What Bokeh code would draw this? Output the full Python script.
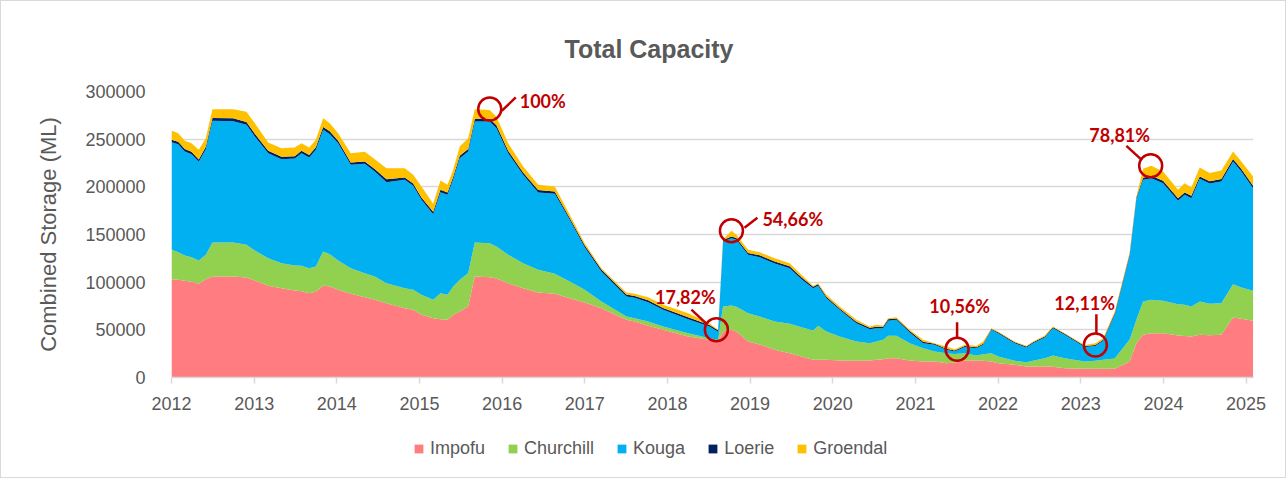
from bokeh.plotting import figure
from bokeh.layouts import column
from bokeh.models import (ColumnDataSource, Legend, LegendItem, FixedTicker,
                          NumeralTickFormatter, Range1d)
from bokeh.core.properties import value
from bokeh.embed import file_html
from bokeh.resources import INLINE

# ---------------- data (ML) ----------------
dates = [
    2012.000, 2012.081, 2012.161, 2012.242, 2012.330, 2012.415, 2012.496, 2012.746, 2012.907, 2013.008,
    2013.170, 2013.331, 2013.491, 2013.573, 2013.666, 2013.746, 2013.835, 2013.915, 2014.016, 2014.169,
    2014.338, 2014.459, 2014.601, 2014.822, 2014.924, 2015.024, 2015.166, 2015.254, 2015.339, 2015.408,
    2015.487, 2015.589, 2015.669, 2015.850, 2015.931, 2016.073, 2016.254, 2016.436, 2016.637, 2016.818,
    2016.999, 2017.201, 2017.504, 2017.604, 2017.766, 2017.948, 2018.250, 2018.508, 2018.613, 2018.673,
    2018.774, 2018.834, 2018.976, 2019.116, 2019.298, 2019.479, 2019.621, 2019.762, 2019.823, 2019.923,
    2020.084, 2020.286, 2020.447, 2020.528, 2020.609, 2020.669, 2020.770, 2020.931, 2021.093, 2021.233,
    2021.375, 2021.475, 2021.596, 2021.738, 2021.819, 2021.919, 2022.000, 2022.201, 2022.342, 2022.423,
    2022.564, 2022.665, 2022.806, 2023.048, 2023.177, 2023.270, 2023.411, 2023.592, 2023.673, 2023.754,
    2023.854, 2023.996, 2024.177, 2024.257, 2024.338, 2024.439, 2024.560, 2024.701, 2024.843, 2024.943,
    2025.085]

impofu = [
    103100, 102500, 101400, 100400, 98300, 103100, 105900, 105900, 104900, 101800,
    96200, 93700, 91300, 90500, 88400, 89900, 96500, 95500, 92000, 87800,
    84200, 81500, 77900, 72700, 71000, 65800, 62200, 61200, 60500, 65800,
    69200, 74500, 105900, 105200, 103900, 98900, 93700, 89200, 87800, 83200,
    78700, 72700, 60500, 58700, 54200, 50000, 43000, 39500, 37500, 48300,
    50000, 48300, 37800, 34600, 29100, 25500, 22000, 18600, 18600, 18600,
    17800, 17500, 17800, 18600, 19200, 20200, 20200, 17800, 16800, 16800,
    15000, 15700, 17800, 17800, 17500, 16800, 15000, 13300, 11500, 11500,
    11500, 11200, 9800, 9100, 9100, 9100, 9100, 16800, 36000, 44800,
    46500, 46500, 44100, 43500, 43000, 44800, 44300, 44800, 62900, 61600,
    59500]

churchill = [
    31200, 28900, 26600, 25800, 24400, 25600, 35700, 35700, 34300, 31400,
    28900, 26200, 26200, 26700, 26300, 26500, 35700, 33800, 30700, 26900,
    25200, 24400, 21000, 21000, 21000, 21000, 19300, 27200, 26300, 29700,
    33300, 34900, 35700, 35700, 33500, 29800, 26200, 23800, 21000, 17500,
    13300, 7000, 3500, 3500, 4500, 3500, 3500, 1700, 2000, 26200,
    25500, 25800, 29700, 29400, 29600, 30800, 30800, 30700, 35600, 29700,
    25200, 20300, 18200, 19200, 20300, 23500, 23500, 18200, 13900, 10500,
    10500, 9000, 7700, 5300, 6900, 8700, 7000, 4200, 4500, 6000,
    8700, 11900, 10400, 7700, 8400, 9500, 10800, 23100, 24500, 34900,
    35000, 34000, 32800, 32800, 31500, 34900, 33100, 33100, 35000, 32800,
    31400]

kouga = [
    112500, 113300, 109100, 108000, 103600, 110800, 127700, 127300, 125900, 119600,
    110200, 109100, 112200, 118100, 116100, 122500, 127600, 125900, 123100, 108400,
    114800, 110200, 106000, 113700, 109100, 99600, 89800, 106000, 104800, 112500,
    127500, 127700, 126900, 127600, 124100, 106600, 92700, 81100, 83900, 64700,
    44700, 31500, 21000, 21400, 20300, 17500, 14700, 12300, 8500, 68200,
    70500, 70300, 61200, 62200, 60900, 58400, 50300, 44400, 42000, 34900,
    28000, 19200, 14700, 13900, 12200, 15800, 16800, 11200, 5300, 7000,
    3600, 2600, 6500, 7600, 9900, 24500, 24500, 18500, 15500, 18500,
    21800, 28600, 24600, 15200, 15600, 19900, 45900, 88100, 126900, 127700,
    127600, 123300, 108500, 115300, 113600, 128700, 126000, 127700, 128700, 121700,
    107700]

loerie = [
    2500, 2500, 2500, 2500, 2500, 2500, 3000, 3000, 3000, 3000,
    2500, 2500, 2500, 2500, 2500, 2500, 3000, 3000, 2500, 2500,
    2500, 2500, 3000, 2500, 2500, 2500, 2500, 2500, 2500, 2500,
    2500, 2500, 3000, 3000, 3000, 2500, 2500, 2500, 2500, 2000,
    2000, 2000, 2000, 2000, 2000, 2000, 2000, 1500, 1500, 1500,
    2000, 2000, 2000, 2000, 2000, 2000, 2000, 1500, 1500, 1500,
    1500, 1500, 1500, 1500, 1500, 1500, 1500, 1500, 1500, 1000,
    1000, 1000, 1000, 1000, 1000, 1000, 1000, 1000, 1000, 1000,
    1000, 1000, 1000, 1000, 1000, 1000, 1500, 1500, 1500, 2000,
    2500, 2500, 2500, 2500, 2500, 2500, 2500, 2500, 2500, 2500,
    2500]

groendal = [
    9800, 9100, 8700, 9100, 10100, 9000, 9100, 9500, 10600, 11000,
    8700, 9000, 9100, 8000, 8000, 7900, 9200, 8600, 8000, 9700,
    10100, 10400, 11700, 9700, 9000, 11500, 8400, 9800, 8000, 7400,
    9800, 11400, 9900, 9000, 9000, 8000, 6200, 5500, 5200, 3300,
    2200, 1500, 2200, 2200, 3200, 3300, 4300, 2000, 700, 800,
    6000, 3300, 3300, 3200, 3500, 3200, 2600, 1000, 1200, 2100,
    2000, 2000, 1300, 2100, 1000, 1200, 1300, 1300, 2000, 700,
    2400, 1450, 1300, 1600, 2500, 700, 800, 800, 800, 800,
    1100, 800, 700, 1100, 1900, 1700, 1900, 1600, 900, 9500,
    10400, 9800, 9000, 9700, 8700, 9400, 8500, 9000, 8000, 8000,
    9700]

series_names = ["Impofu", "Churchill", "Kouga", "Loerie", "Groendal"]
series_colors = ["#FF7C80", "#92D050", "#00B0F0", "#002060", "#FFC000"]

year_ticks = list(range(2012, 2026))
storage_ticks = [0, 50000, 100000, 150000, 200000, 250000, 300000]

total_capacity = 281734
ann_dates = [2015.850, 2018.592, 2018.774, 2021.504, 2023.177, 2023.846]
ann_pct = [100.0, 17.82, 54.66, 10.56, 12.11, 78.81]
ann_text = ["100%", "17,82%", "54,66%", "10,56%", "12,11%", "78,81%"]

# ---------------- main figure ----------------
W, H = 1284, 420
X0, X1 = 2012.0, 2025.09
Y0, Y1 = 0, 300000
FL, FR, FT, FB = 170, 32, 90, 44

p = figure(width=W, height=H, output_backend="svg", toolbar_location=None,
           x_range=Range1d(X0, X1), y_range=Range1d(Y0, Y1),
           min_border_left=FL, min_border_right=FR,
           min_border_top=FT, min_border_bottom=FB,
           title="Total Capacity")
p.outline_line_color = None
p.background_fill_color = "white"
p.border_fill_color = "white"

p.title.text_font = "Liberation Sans"
p.title.text_font_size = "25px"
p.title.text_font_style = "bold"
p.title.text_color = "#595959"
p.title.align = "left"
p.title.offset = 393
p.title.standoff = 58

src = ColumnDataSource(data=dict(x=dates, Impofu=impofu, Churchill=churchill,
                                 Kouga=kouga, Loerie=loerie, Groendal=groendal))
rends = p.varea_stack(stackers=series_names, x="x", color=series_colors, source=src)

xa = p.xaxis[0]
xa.ticker = FixedTicker(ticks=year_ticks)
xa.axis_line_color = "#D9D9D9"
xa.axis_line_width = 1.5
xa.major_tick_line_color = "#D9D9D9"
xa.major_tick_line_width = 1.5
xa.major_tick_out = 6
xa.major_tick_in = 0
xa.minor_tick_line_color = None
xa.major_label_standoff = 13
xa.major_label_text_font = "Liberation Sans"
xa.major_label_text_font_size = "18px"
xa.major_label_text_color = "#595959"

ya = p.yaxis[0]
ya.ticker = FixedTicker(ticks=storage_ticks)
ya.formatter = NumeralTickFormatter(format="0")
ya.axis_line_color = None
ya.major_tick_line_color = None
ya.minor_tick_line_color = None
ya.major_label_standoff = 20
ya.major_label_text_font = "Liberation Sans"
ya.major_label_text_font_size = "18px"
ya.major_label_text_color = "#595959"
ya.axis_label = "Combined Storage (ML)"
ya.axis_label_text_font = "Liberation Sans"
ya.axis_label_text_font_size = "22px"
ya.axis_label_text_font_style = "normal"
ya.axis_label_text_color = "#595959"
ya.axis_label_standoff = 21

p.xgrid.grid_line_color = None
p.ygrid.grid_line_color = "#D9D9D9"
p.ygrid.grid_line_width = 1.5
p.ygrid.ticker = FixedTicker(ticks=storage_ticks)

# annotations
frame_w = W - FL - FR
frame_h = H - FT - FB
ppx = frame_w / (X1 - X0)
ppy = frame_h / (Y1 - Y0)
ann_y = [v / 100.0 * total_capacity for v in ann_pct]

lead = [((12, 2), (26, -11.5)), ((-25, -20), (-10, -6)), ((13, -3), (26, -13)),
        ((0, -27), (0, -11.5)), ((1, -30.7), (1, -12)), ((-24.3, -20), (-9, -6))]
lbl_dx = [30, -31, 31, 2.6, -10.7, -31]
lbl_dy = [-8, -32.4, -11.7, -43, -42.4, -31]
lbl_align = ["left", "center", "left", "center", "center", "center"]

x0s, y0s, x1s, y1s = [], [], [], []
for (ax, ay, ((a, b), (c, d))) in zip(ann_dates, ann_y, lead):
    x0s.append(ax + a / ppx); y0s.append(ay - b / ppy)
    x1s.append(ax + c / ppx); y1s.append(ay - d / ppy)
p.segment(x0=x0s, y0=y0s, x1=x1s, y1=y1s, line_color="#C00000", line_width=2.5)
p.scatter(x=ann_dates, y=ann_y, marker="circle", size=23, fill_color=None,
          line_color="#C00000", line_width=2.5)
lsrc = ColumnDataSource(data=dict(x=ann_dates, y=ann_y, t=ann_text,
                                  dx=lbl_dx, dy=lbl_dy, al=lbl_align))
p.text(x="x", y="y", text="t", x_offset="dx", y_offset="dy", text_align="al",
       text_baseline="middle", text_font=value("Lato"), text_font_style="bold",
       text_font_size="18px", text_color="#C00000", source=lsrc)

# ---------------- legend strip ----------------
LH = 56
lg = figure(width=W, height=LH, output_backend="svg", toolbar_location=None,
            x_range=Range1d(0, 1), y_range=Range1d(0, 1),
            x_axis_type=None, y_axis_type=None,
            min_border_left=0, min_border_right=0, min_border_top=0, min_border_bottom=0)
lg.outline_line_color = None
lg.grid.visible = False
lg.background_fill_color = "white"
lg.border_fill_color = "white"
items = []
for n, c in zip(series_names, series_colors):
    r = lg.varea(x=[-5, -4], y1=[-5, -5], y2=[-4, -4], fill_color=c)
    items.append(LegendItem(label=n, renderers=[r]))
legend = Legend(items=items, orientation="horizontal", location=(242, 18),
                glyph_width=11, glyph_height=11, label_standoff=6, spacing=22,
                padding=0, margin=0, label_height=20,
                label_text_font="Liberation Sans", label_text_font_size="18px",
                label_text_color="#595959", border_line_color=None,
                background_fill_alpha=0)
lg.add_layout(legend, "center")

page = column(p, lg, spacing=0)
page.styles = {"border": "1px solid #D9D9D9"}

open("out.html", "w").write(file_html(page, INLINE))
